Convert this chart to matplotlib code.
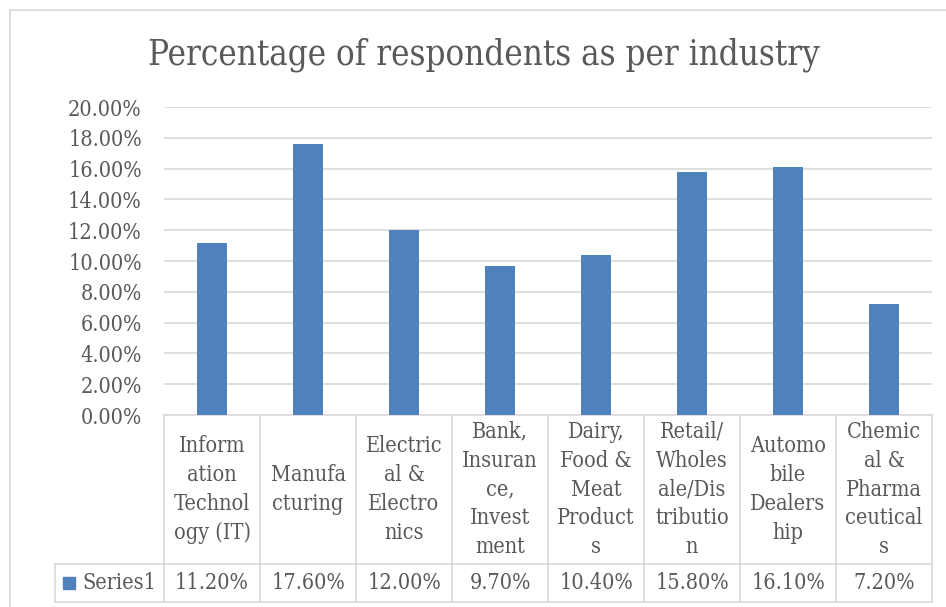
import matplotlib
matplotlib.use("Agg")
import matplotlib.pyplot as plt
from matplotlib.transforms import blended_transform_factory
from matplotlib.lines import Line2D
from matplotlib.patches import Rectangle

# data
categories = [
    "Inform\nation\nTechnol\nogy (IT)",
    "Manufa\ncturing",
    "Electric\nal &\nElectro\nnics",
    "Bank,\nInsuran\nce,\nInvest\nment",
    "Dairy,\nFood &\nMeat\nProduct\ns",
    "Retail/\nWholes\nale/Dis\ntributio\nn",
    "Automo\nbile\nDealers\nhip",
    "Chemic\nal &\nPharma\nceutical\ns",
]
values = [11.2, 17.6, 12.0, 9.7, 10.4, 15.8, 16.1, 7.2]
series_name = "Series1"
yticks = [0, 2, 4, 6, 8, 10, 12, 14, 16, 18, 20]

W, H = 946, 607
TEXT = "#595959"
GRID = "#d9d9d9"
BAR = "#4f81bd"
FS = 15.5

plt.rcParams["font.family"] = "DejaVu Serif"
plt.rcParams["font.stretch"] = "condensed"

fig = plt.figure(figsize=(W / 100, H / 100), dpi=100)

# outer chart frame
fig.patches.append(Rectangle((10 / W, -0.1), 1.1, 1 - 10 / H + 0.1, transform=fig.transFigure,
                             fill=False, edgecolor=GRID, linewidth=1.2))

left, right, top, bottom = 164, 932, 107, 415
ax = fig.add_axes([left / W, 1 - bottom / H, (right - left) / W, (bottom - top) / H])

x = list(range(len(values)))
ax.bar(x, values, width=0.31, color=BAR, zorder=3)
ax.set_xlim(-0.5, len(values) - 0.5)
ax.set_ylim(0, 20)
ax.set_yticks(yticks)
ax.set_yticklabels(["{:.2f}%".format(v) for v in yticks], fontsize=FS, color=TEXT)
ax.tick_params(axis="y", length=0, pad=16)
ax.set_xticks([])
ax.grid(axis="y", color=GRID, linewidth=1.2, zorder=0)
for s in ax.spines.values():
    s.set_visible(False)

fig.text(484 / W, 1 - 55 / H, "Percentage of respondents as per industry",
         ha="center", va="center", fontsize=25, color=TEXT)

# data table below the plot
trans = blended_transform_factory(ax.transData, ax.transAxes)
ah = bottom - top
row1 = -(564 - bottom) / ah
row2 = -(602 - bottom) / ah
leg_x = -0.5 - 109 / 96


def hline(x0, x1, y):
    ax.add_line(Line2D([x0, x1], [y, y], transform=trans, color=GRID, lw=1.2, clip_on=False))


def vline(xv, y0, y1):
    ax.add_line(Line2D([xv, xv], [y0, y1], transform=trans, color=GRID, lw=1.2, clip_on=False))


n = len(values)
hline(-0.5, n - 0.5, 0)
hline(leg_x, n - 0.5, row1)
hline(leg_x, n - 0.5, row2)
vline(leg_x, row1, row2)
for i in range(n + 1):
    vline(i - 0.5, 0, row2)

for i, (cat, v) in enumerate(zip(categories, values)):
    ax.text(i, row1 / 2, cat, transform=trans, ha="center", va="center",
            fontsize=FS, color=TEXT, linespacing=1.4)
    ax.text(i, (row1 + row2) / 2, "{:.2f}%".format(v), transform=trans, ha="center",
            va="center", fontsize=FS, color=TEXT)

ax.add_patch(Rectangle((leg_x + 8 / 96, (row1 + row2) / 2 - 6 / ah), 12 / 96, 12 / ah,
                       transform=trans, color=BAR, clip_on=False))
ax.text(leg_x + 27 / 96, (row1 + row2) / 2, series_name, transform=trans, ha="left",
        va="center", fontsize=FS, color=TEXT)

fig.savefig("out.png", dpi=100)
